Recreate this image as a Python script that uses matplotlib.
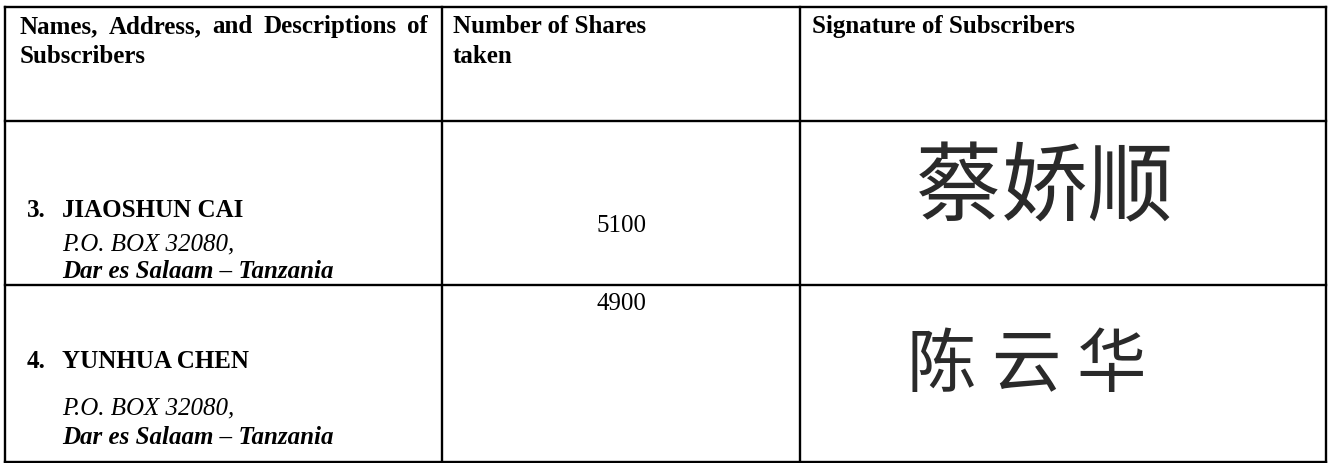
import matplotlib.pyplot as plt

# table content
header_1 = ["Names,", "Address,", "and", "Descriptions", "of"]
header_1b = "Subscribers"
header_2 = ["Number of Shares", "taken"]
header_3 = "Signature of Subscribers"
numbers = ["3.", "4."]
names = ["JIAOSHUN CAI", "YUNHUA CHEN"]
po_box = ["P.O. BOX 32080,", "P.O. BOX 32080,"]
city = ["Dar es Salaam \u2013 Tanzania", "Dar es Salaam \u2013 Tanzania"]
shares = [5100, 4900]
signatures = ["蔡娇顺", "陈 云 华"]

W, H = 1328, 464
fig = plt.figure(figsize=(W / 100, H / 100), dpi=100)
ax = fig.add_axes([0, 0, 1, 1])
ax.set_xlim(0, W)
ax.set_ylim(H, 0)
ax.axis('off')

serif = 'Liberation Serif'
fs = 18

# grid lines
col_x = [5, 442, 800, 1326]
row_y = [8, 122, 286, 463]
for x in col_x:
    ax.plot([x, x], [row_y[0], row_y[-1]], color='black', lw=1.7, solid_capstyle='projecting')
for y in row_y:
    ax.plot([col_x[0], col_x[-1]], [y, y], color='black', lw=1.7, solid_capstyle='projecting')

# header, first line justified across the cell
fig.canvas.draw()
renderer = fig.canvas.get_renderer()
x0, x1, base = 20, 428, 33
words = [ax.text(0, base, w, fontfamily=serif, fontsize=fs, fontweight='bold', va='baseline')
         for w in header_1]
widths = [t.get_window_extent(renderer).width for t in words]
gap = (x1 - x0 - sum(widths)) / (len(words) - 1)
x = x0
for t, w in zip(words, widths):
    t.set_x(x)
    x += w + gap
ax.text(x0, base + 30, header_1b, fontfamily=serif, fontsize=fs, fontweight='bold', va='baseline')
ax.text(453, base, header_2[0], fontfamily=serif, fontsize=fs, fontweight='bold', va='baseline')
ax.text(453, base + 30, header_2[1], fontfamily=serif, fontsize=fs, fontweight='bold', va='baseline')
ax.text(812, base, header_3, fontfamily=serif, fontsize=fs, fontweight='bold', va='baseline')

# subscriber rows
name_y = [217, 368]
po_y = [250, 414]
city_y = [278, 444]
share_y = [232, 310]
sig_y = [190, 366]
sig_x = [1045, 1027]
sig_fs = [62, 50]
for i in range(len(names)):
    ax.text(27, name_y[i], numbers[i], fontfamily=serif, fontsize=fs, fontweight='bold', va='baseline')
    ax.text(62, name_y[i], names[i], fontfamily=serif, fontsize=fs, fontweight='bold', va='baseline')
    ax.text(62, po_y[i], po_box[i], fontfamily=serif, fontsize=fs, style='italic', va='baseline')
    ax.text(62, city_y[i], city[i], fontfamily=serif, fontsize=fs, style='italic',
            fontweight='bold', va='baseline')
    ax.text(621, share_y[i], str(shares[i]), fontfamily=serif, fontsize=fs, ha='center', va='baseline')
    ax.text(sig_x[i], sig_y[i], signatures[i], fontfamily=['Noto Sans CJK SC', 'DejaVu Sans'],
            fontsize=sig_fs[i], fontweight='light', color='#2a2a2a', ha='center', va='center')

fig.savefig('out.png', dpi=100, facecolor='white')
